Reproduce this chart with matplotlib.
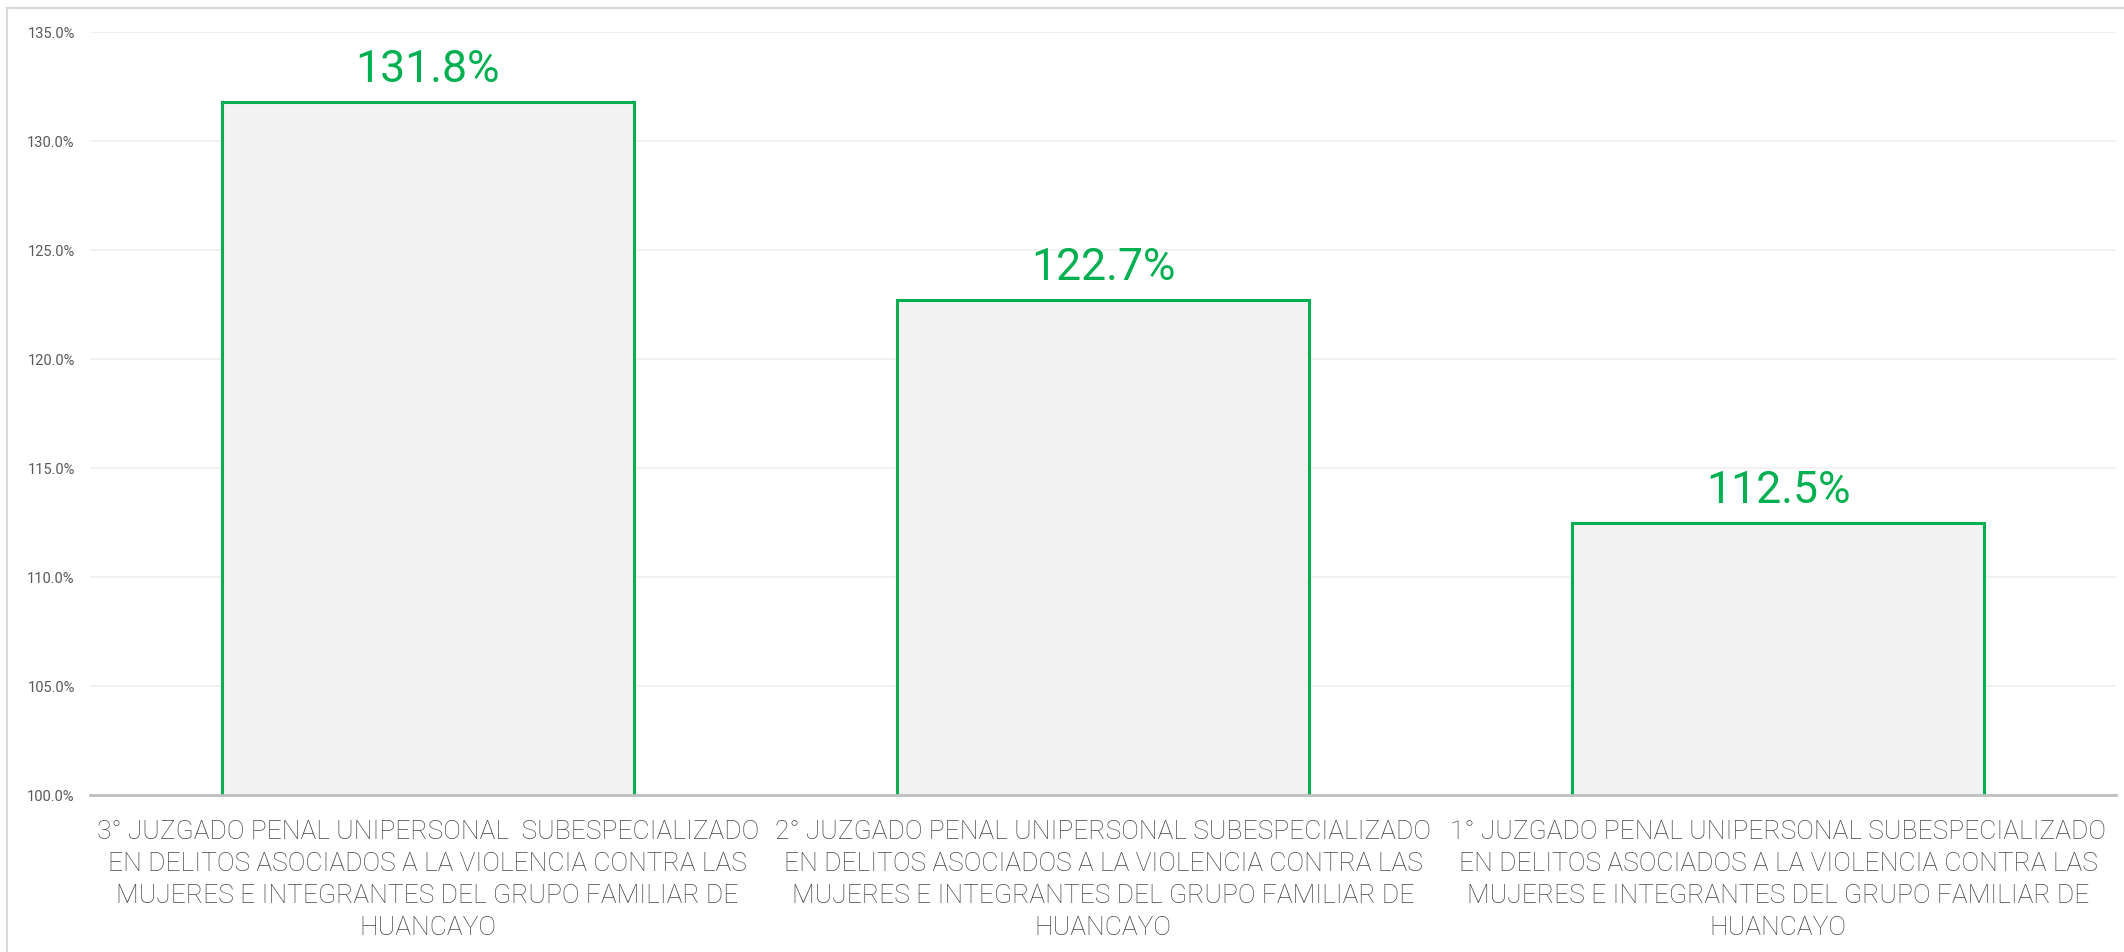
import matplotlib
matplotlib.use("Agg")
import matplotlib.pyplot as plt
from matplotlib.lines import Line2D
from matplotlib.ticker import FuncFormatter

categories = [
    "3° JUZGADO PENAL UNIPERSONAL  SUBESPECIALIZADO\nEN DELITOS ASOCIADOS A LA VIOLENCIA CONTRA LAS\nMUJERES E INTEGRANTES DEL GRUPO FAMILIAR DE\nHUANCAYO",
    "2° JUZGADO PENAL UNIPERSONAL SUBESPECIALIZADO\nEN DELITOS ASOCIADOS A LA VIOLENCIA CONTRA LAS\nMUJERES E INTEGRANTES DEL GRUPO FAMILIAR DE\nHUANCAYO",
    "1° JUZGADO PENAL UNIPERSONAL SUBESPECIALIZADO\nEN DELITOS ASOCIADOS A LA VIOLENCIA CONTRA LAS\nMUJERES E INTEGRANTES DEL GRUPO FAMILIAR DE\nHUANCAYO",
]
values = [131.8, 122.7, 112.5]
y_ticks = [100, 105, 110, 115, 120, 125, 130, 135]

W, H = 2124, 953
fig = plt.figure(figsize=(W / 100, H / 100), dpi=100)
fig.patch.set_facecolor("white")

fig.add_artist(Line2D([7 / W, 7 / W], [0, 1 - 9 / H], transform=fig.transFigure,
                      color="#D9D9D9", lw=1.5))
fig.add_artist(Line2D([7 / W, 1], [1 - 9 / H, 1 - 9 / H], transform=fig.transFigure,
                      color="#D9D9D9", lw=1.5))

left, right = 90 / W, 2116 / W
bottom, top = 1 - 796 / H, 1 - 33 / H
ax = fig.add_axes([left, bottom, right - left, top - bottom])

x = list(range(len(categories)))
ax.bar(x, values, width=0.61, bottom=0, color="#F2F2F2",
       edgecolor="#00B050", linewidth=2.2, zorder=2)
ax.set_xlim(-0.5, len(categories) - 0.5)
ax.set_ylim(100, 135)
ax.set_yticks(y_ticks)
ax.yaxis.set_major_formatter(FuncFormatter(lambda v, p: f"{v:.1f}%"))
ax.grid(axis="y", color="#EFEFEF", lw=1.2, zorder=0)
ax.set_axisbelow(True)

for s in ["top", "right", "left"]:
    ax.spines[s].set_visible(False)
ax.spines["bottom"].set_color("#BFBFBF")
ax.spines["bottom"].set_linewidth(2.0)
ax.spines["bottom"].set_zorder(3)

ax.tick_params(axis="y", length=0, pad=11, labelsize=10.5, labelcolor="#595959")
ax.tick_params(axis="x", length=0, pad=17)
ax.set_xticks(x)
ax.set_xticklabels(categories, fontsize=19, color="#474747", family="Roboto",
                   weight="light", linespacing=1.43)
for lab in ax.get_yticklabels():
    lab.set_family("Roboto")

for xi, v in zip(x, values):
    ax.annotate(f"{v:.1f}%", xy=(xi, v), xytext=(0, 15), textcoords="offset points",
                ha="center", va="baseline", fontsize=32, color="#00B050",
                family="Roboto")

fig.savefig("out.png", dpi=100, facecolor="white")
